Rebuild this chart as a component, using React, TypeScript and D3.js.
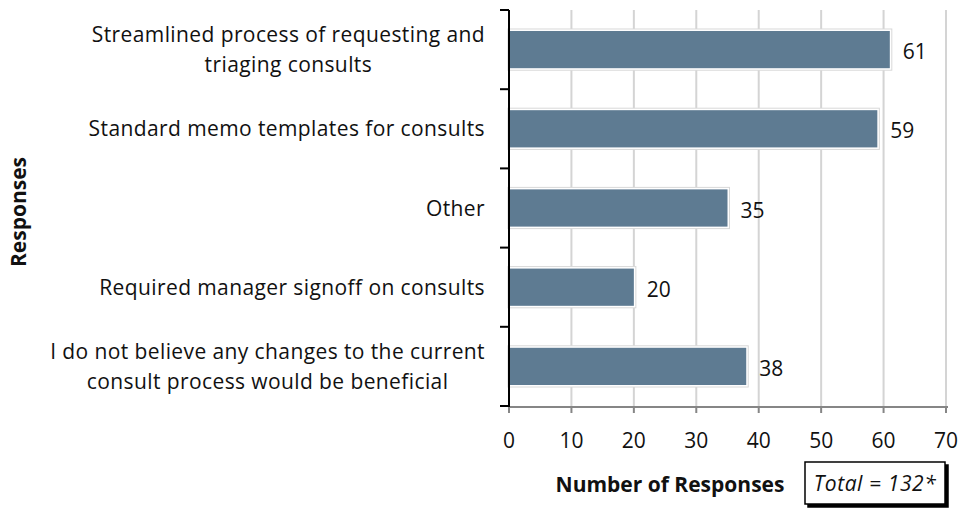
import React from "react";
import * as d3 from "d3";

const categories = [
  "Streamlined process of requesting and|triaging consults",
  "Standard memo templates for consults",
  "Other",
  "Required manager signoff on consults",
  "I do not believe any changes to the current|consult process would be beneficial",
];
const values = [61, 59, 35, 20, 38];
const xTicks = [0, 10, 20, 30, 40, 50, 60, 70];
const xTitle = "Number of Responses";
const yTitle = "Responses";
const totalNote = "Total = 132*";

const W = 963;
const H = 510;
const M = { left: 509, right: 946, top: 10, bottom: 406 };
const FONT = "'Open Sans', sans-serif";
const FS = 21;
const LS = 0.4;

function measure(s: string, font: string, ls: number) {
  const c = document.createElement("canvas").getContext("2d")!;
  c.font = font;
  return c.measureText(s).width + ls * s.length;
}

export default function App() {
  const x = d3.scaleLinear().domain([0, 70]).range([M.left, M.right]);
  const y = d3
    .scaleBand<string>()
    .domain(categories)
    .range([M.top, M.bottom])
    .paddingInner(0.53)
    .paddingOuter(0.265);
  const bandStep = (M.bottom - M.top) / categories.length;
  const boundaries = d3.range(categories.length + 1).map((i) => M.top + i * bandStep);

  return (
    <svg width={W} height={H} style={{ position: "absolute", left: 0, top: 0, background: "#fff" }}>
      <defs>
        <filter id="sh" x="-5%" y="-5%" width="115%" height="130%">
          <feDropShadow dx="3" dy="3" stdDeviation="0" floodColor="#000" floodOpacity="1" />
        </filter>
      </defs>
      {xTicks.slice(1).map((t) => (
        <line key={t} x1={x(t)} x2={x(t)} y1={M.top} y2={M.bottom} stroke="#d4d4d4" strokeWidth={2} />
      ))}
      {categories.map((c, i) => {
        const by = y(c)!;
        const bh = y.bandwidth();
        const bw = x(values[i]) - x(0);
        return (
          <g key={c}>
            <rect x={x(0) - 1} y={by - 2} width={bw + 3} height={bh + 4} fill="#fff" stroke="#d8d8d8" strokeWidth={1} />
            <rect x={x(0) + 1} y={by} width={bw - 1} height={bh} fill="#5e7b92" />
            <text x={x(values[i]) + 13} y={by + bh / 2 + 2} dy="0.36em" fontFamily={FONT} fontSize={FS} fill="#111">
              {values[i]}
            </text>
          </g>
        );
      })}
      <line x1={x(0)} x2={x(70) + 2} y1={M.bottom + 1} y2={M.bottom + 1} stroke="#868686" strokeWidth={2} />
      {xTicks.map((t) => (
        <g key={t}>
          <line x1={x(t)} x2={x(t)} y1={M.bottom} y2={M.bottom + 7} stroke="#868686" strokeWidth={2} />
          <text x={x(t)} y={440} dy="0.36em" textAnchor="middle" fontFamily={FONT} fontSize={FS} fill="#111">
            {t}
          </text>
        </g>
      ))}
      <line x1={M.left} x2={M.left} y1={M.top} y2={M.bottom + 1} stroke="#000" strokeWidth={2} />
      {boundaries.map((b, i) => (
        <line key={i} x1={M.left - 9} x2={M.left} y1={b} y2={b} stroke="#000" strokeWidth={2} />
      ))}
      {categories.map((c) => {
        const lines = c.split("|");
        const cy = y(c)! + y.bandwidth() / 2;
        const lh = 30;
        const maxW = Math.max(...lines.map((l) => measure(l, `${FS}px ${FONT}`, LS)));
        const cx = 485 - maxW / 2;
        return (
          <text key={c} fontFamily={FONT} fontSize={FS} letterSpacing={LS} fill="#111" textAnchor="middle">
            {lines.map((l, k) => (
              <tspan key={k} x={cx} y={cy + (k - (lines.length - 1) / 2) * lh} dy="0.36em">
                {l}
              </tspan>
            ))}
          </text>
        );
      })}
      <text x={670} y={484} dy="0.36em" textAnchor="middle" fontFamily={FONT} fontWeight="bold" fontSize={FS} fill="#111">
        {xTitle}
      </text>
      <text
        transform={`translate(18,${212}) rotate(-90)`}
        textAnchor="middle"
        dy="0.36em"
        fontFamily={FONT}
        fontWeight="bold"
        fontSize={FS}
        fill="#111"
      >
        {yTitle}
      </text>
      <rect x={805} y={462} width={140} height={42} fill="#fff" stroke="#000" strokeWidth={1.5} filter="url(#sh)" />
      <text x={875} y={483} dy="0.36em" textAnchor="middle" fontFamily={FONT} fontStyle="italic" fontSize={FS} letterSpacing={0.6} fill="#111">
        {totalNote}
      </text>
    </svg>
  );
}
